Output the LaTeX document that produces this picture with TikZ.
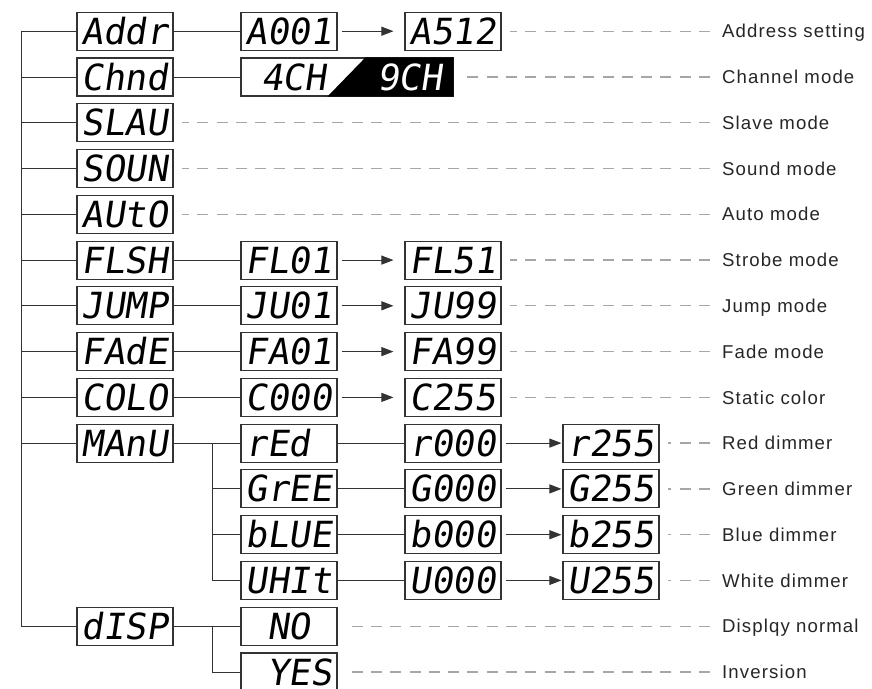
\documentclass[tikz,border=0pt]{standalone}
\usepackage{fontspec}
\usepackage{tikz}
\usetikzlibrary{arrows.meta,calc}
\newfontfamily\labelfont[LetterSpace=6]{Liberation Sans}
\newfontfamily\segfont[FakeSlant=0.15]{DejaVu Sans Mono}

\tikzset{
  segbox/.style={draw=black!80, line width=1.1pt, minimum width=96pt, minimum height=38pt,
    inner xsep=4.5pt, inner ysep=0pt, text width=87pt, align=left,
    text height=26pt, text depth=0pt, font=\segfont\fontsize{36pt}{36pt}\selectfont},
  conn/.style={draw=black!80, line width=0.9pt},
  arr/.style={conn, -{Triangle[length=12pt,width=9pt]}, shorten <=4pt},
  dashline/.style={draw=black!35, line width=1.3pt, dash pattern=on 11pt off 8.3pt, shorten >=8pt},
  lab/.style={anchor=west, inner sep=0pt, text height=13.3pt, text depth=0pt,
    text=black!85, font=\labelfont\fontsize{18.6pt}{20pt}\selectfont}
}

\begin{document}
\begin{tikzpicture}[x=1pt,y=-1pt]
  \useasboundingbox (0,0) rectangle (872,688);

  % first column
  \node[segbox] (addr) at (125,31.2) {Addr};
  \node[segbox] (chnd) at (125,77) {Chnd};
  \node[segbox] (slau) at (125,122.7) {SLAU};
  \node[segbox] (soun) at (125,168.5) {SOUN};
  \node[segbox] (auto) at (125,214.3) {AUtO};
  \node[segbox] (flsh) at (125,260.1) {FLSH};
  \node[segbox] (jump) at (125,305.8) {JUMP};
  \node[segbox] (fade) at (125,351.6) {FAdE};
  \node[segbox] (colo) at (125,397.4) {COLO};
  \node[segbox] (manu) at (125,443.1) {MAnU};
  \node[segbox] (dsp) at (125,626.2) {dISP};

  % trunk
  \coordinate (trunktop) at (21,31.2);
  \coordinate (trunkbot) at (21,626.2);
  \draw[conn] (addr.west) -- (trunktop) -- (trunkbot) -- (dsp.west);
  \foreach \n in {chnd,slau,soun,auto,flsh,jump,fade,colo,manu}
    \draw[conn] (\n.west) -- (\n.west -| trunktop);

  % second and third column
  \node[segbox] (a001) at (289,31.2) {A001};
  \node[segbox] (a512) at (453,31.2) {A512};
  \node[draw=black!80, line width=1.1pt, minimum width=212pt, minimum height=38pt] (chmode) at (347,77) {};
  \fill[black] ($(chmode.south west)+(87,0)$) -- ($(chmode.north west)+(125,0)$) -- (chmode.north east) -- (chmode.south east) -- cycle;
  \node[font=\segfont\fontsize{36pt}{36pt}\selectfont, text height=26pt, text depth=0pt, inner sep=0pt, anchor=west] (ch4) at (261,77) {4CH};
  \node[font=\segfont\fontsize{36pt}{36pt}\selectfont, text height=26pt, text depth=0pt, inner sep=0pt, anchor=west, text=white] (ch9) at (377,77) {9CH};
  \node[segbox] (fl01) at (289,260.1) {FL01};
  \node[segbox] (fl51) at (453,260.1) {FL51};
  \node[segbox] (ju01) at (289,305.8) {JU01};
  \node[segbox] (ju99) at (453,305.8) {JU99};
  \node[segbox] (fa01) at (289,351.6) {FA01};
  \node[segbox] (fa99) at (453,351.6) {FA99};
  \node[segbox] (c000) at (289,397.4) {C000};
  \node[segbox] (c255) at (453,397.4) {C255};

  \draw[conn] (addr) -- (a001);
  \draw[arr,shorten >=11pt] (a001) -- (a512);
  \draw[conn] (chnd) -- (chmode);
  \draw[conn] (flsh) -- (fl01);
  \draw[arr,shorten >=11pt] (fl01) -- (fl51);
  \draw[conn] (jump) -- (ju01);
  \draw[arr,shorten >=11pt] (ju01) -- (ju99);
  \draw[conn] (fade) -- (fa01);
  \draw[arr,shorten >=11pt] (fa01) -- (fa99);
  \draw[conn] (colo) -- (c000);
  \draw[arr,shorten >=11pt] (c000) -- (c255);

  % manual dimmers
  \node[segbox] (red) at (289,443.1) {rEd};
  \node[segbox] (gree) at (289,488.9) {GrEE};
  \node[segbox] (blue) at (289,534.7) {bLUE};
  \node[segbox] (whit) at (289,580.4) {UHIt};
  \node[segbox] (r000) at (453,443.1) {r000};
  \node[segbox] (g000) at (453,488.9) {G000};
  \node[segbox] (b000) at (453,534.7) {b000};
  \node[segbox] (u000) at (453,580.4) {U000};
  \node[segbox] (r255) at (611,443.1) {r255};
  \node[segbox] (g255) at (611,488.9) {G255};
  \node[segbox] (b255) at (611,534.7) {b255};
  \node[segbox] (u255) at (611,580.4) {U255};
  \coordinate (manubr) at (212,443.1);
  \draw[conn] (manu) -- (red);
  \draw[conn] (manubr) |- (whit.west);
  \draw[conn] (manubr |- gree.west) -- (gree.west);
  \draw[conn] (manubr |- blue.west) -- (blue.west);
  \foreach \a/\b/\c in {red/r000/r255,gree/g000/g255,blue/b000/b255,whit/u000/u255}{
    \draw[conn] (\a) -- (\b);
    \draw[arr,shorten >=1pt] (\b) -- (\c);
  }

  % display
  \node[segbox] (norm) at (289,626.2) {\phantom{0}NO};
  \node[segbox] (inv) at (289,672) {\phantom{0}YES};
  \coordinate (dspbr) at (212,626.2);
  \draw[conn] (dsp) -- (norm);
  \draw[conn] (dspbr) |- (inv.west);

  % labels
  \node[lab] (ladr) at (722,31.2) {Address setting};
  \node[lab] (lchn) at (722,77) {Channel mode};
  \node[lab] (lsla) at (722,122.7) {Slave mode};
  \node[lab] (lsou) at (722,168.5) {Sound mode};
  \node[lab] (laut) at (722,214.3) {Auto mode};
  \node[lab] (lstr) at (722,260.1) {Strobe mode};
  \node[lab] (ljum) at (722,305.8) {Jump mode};
  \node[lab] (lfad) at (722,351.6) {Fade mode};
  \node[lab] (lsta) at (722,397.4) {Static color};
  \node[lab] (lred) at (722,443.1) {Red dimmer};
  \node[lab] (lgre) at (722,488.9) {Green dimmer};
  \node[lab] (lblu) at (722,534.7) {Blue dimmer};
  \node[lab] (lwhi) at (722,580.4) {White dimmer};
  \node[lab] (lnor) at (722,626.2) {Displqy normal};
  \node[lab] (linv) at (722,672) {Inversion};

  % dashed leaders
  \foreach \l/\b in {ladr/a512,lchn/chmode,lsla/slau,lsou/soun,laut/auto,lstr/fl51,ljum/ju99,
      lfad/fa99,lsta/c255,lred/r255,lgre/g255,lblu/b255,lwhi/u255,lnor/norm,linv/inv}
    \draw[dashline] ([xshift=-12pt]\l.west) -- (\l.west -| \b.east);
\end{tikzpicture}
\end{document}
